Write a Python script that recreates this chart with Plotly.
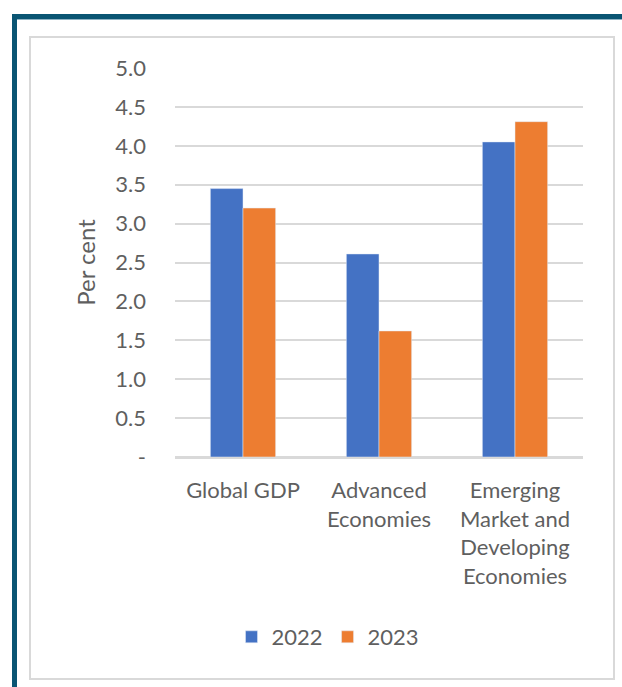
import plotly.graph_objects as go

categories = ["Global GDP", "Advanced<br>Economies", "Emerging<br>Market and<br>Developing<br>Economies"]
values_2022 = [3.45, 2.61, 4.05]
values_2023 = [3.20, 1.62, 4.31]
tick_vals = [0, 0.5, 1.0, 1.5, 2.0, 2.5, 3.0, 3.5, 4.0, 4.5, 5.0]
tick_text = ["-", "0.5", "1.0", "1.5", "2.0", "2.5", "3.0", "3.5", "4.0", "4.5", "5.0"]

W, H = 622, 687
L, R, T, B = 175, 583, 68, 457

def px(x):
    return (x - L) / (R - L)

def py(y):
    return (B - y) / (B - T)

FONT = "Lato"
GRAY = "#5f5f5f"
FS = 22

fig = go.Figure()
fig.add_trace(go.Bar(name="2022", x=categories, y=values_2022, marker_color="#4472C4"))
fig.add_trace(go.Bar(name="2023", x=categories, y=values_2023, marker_color="#ED7D31"))

shapes = [
    dict(type="rect", xref="paper", yref="paper", x0=px(30), x1=px(614), y0=py(37), y1=py(679),
         line=dict(color="#d9d9d9", width=2), fillcolor="rgba(0,0,0,0)", layer="below"),
    dict(type="rect", xref="paper", yref="paper", x0=px(12), x1=px(622), y0=py(14), y1=py(19),
         line=dict(width=0), fillcolor="#0a5573"),
    dict(type="rect", xref="paper", yref="paper", x0=px(17), x1=px(622), y0=py(19), y1=py(20),
         line=dict(width=0), fillcolor="#8fb3c4"),
    dict(type="rect", xref="paper", yref="paper", x0=px(12), x1=px(17), y0=py(14), y1=py(690),
         line=dict(width=0), fillcolor="#0a5573"),
]

fnt = dict(family=FONT, size=FS, color=GRAY)

fig.update_layout(
    width=W, height=H,
    margin=dict(l=L, r=W - R, t=T, b=H - B, pad=0),
    paper_bgcolor="white", plot_bgcolor="white",
    barmode="group", bargap=0.52, bargroupgap=0,
    font=fnt,
    showlegend=True,
    legend=dict(orientation="h", x=px(328), xanchor="center", y=py(637), yanchor="middle",
                font=fnt, itemwidth=30, tracegroupgap=0),
    shapes=shapes,
    xaxis=dict(showgrid=False, showline=False, ticks="", ticklabelstandoff=18,
               tickfont=fnt, fixedrange=True),
    yaxis=dict(range=[0, 5.0], tickvals=tick_vals, ticktext=tick_text,
               showgrid=True, gridcolor="#d9d9d9", gridwidth=1.5,
               zeroline=True, zerolinecolor="#d9d9d9", zerolinewidth=2.5,
               showline=False, ticks="", ticklabelstandoff=28,
               tickfont=fnt,
               title=dict(text="Per cent", font=dict(family=FONT, size=24, color=GRAY), standoff=12)),
)

fig.write_html("out.html")
